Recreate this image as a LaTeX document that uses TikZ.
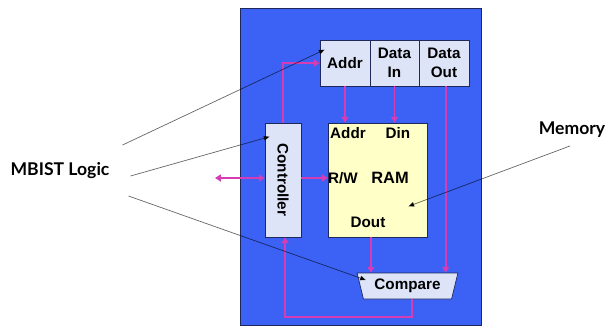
\documentclass[tikz,border=0pt]{standalone}
\usepackage{fontspec}
\setmainfont{Liberation Sans}
\newfontfamily\latofont{Lato}
\usetikzlibrary{arrows.meta,shapes.geometric}
\definecolor{chipblue}{RGB}{59,98,245}
\definecolor{boxfill}{RGB}{221,228,247}
\definecolor{ramfill}{RGB}{255,255,200}
\definecolor{sigpink}{RGB}{214,60,180}
\definecolor{edgenavy}{RGB}{30,40,90}

\begin{document}
\begin{tikzpicture}[x=0.03cm, y=-0.03cm,
  box/.style={draw=edgenavy, line width=0.6pt, fill=boxfill, inner sep=0pt, font=\fontsize{13}{16}\selectfont\bfseries, align=center},
  lbl/.style={font=\fontsize{13}{16}\selectfont\bfseries, inner sep=1pt},
  sig/.style={draw=sigpink, line width=1.5pt, >={Triangle[width=6pt,length=5pt]}, ->},
  callout/.style={draw=black, draw opacity=0.6, line width=0.6pt, -{Triangle[width=4pt,length=5pt]}},
  tag/.style={font=\latofont\fontsize{15}{18}\selectfont\bfseries}]
  \useasboundingbox (0,0) rectangle (611,327);
  \node[draw=edgenavy, line width=0.8pt, fill=chipblue, minimum width=7.23cm, minimum height=9.51cm] (chip) at (360.5,166.5) {};
  \node[box, minimum width=1.5cm, minimum height=1.38cm] (addr) at (345,63) {Addr};
  \node[box, minimum width=1.47cm, minimum height=1.38cm] (datain) at (394.5,63) {Data\\In};
  \node[box, minimum width=1.5cm, minimum height=1.38cm] (dataout) at (444,63) {Data\\Out};
  \node[box, minimum width=1.08cm, minimum height=3.42cm] (ctrl) at (283,180) {};
  \node[lbl, rotate=-90] (ctrllbl) at (ctrl.center) {Controller};
  \node[box, fill=ramfill, minimum width=2.97cm, minimum height=3.42cm] (ram) at (377.5,180) {};
  \node[lbl] (addrlbl) at (348,133) {Addr};
  \node[lbl] (dinlbl) at (398,133) {Din};
  \node[lbl] (rwlbl) at (343,178) {R/W};
  \node[lbl, font=\fontsize{14}{16}\selectfont\bfseries] (ramlbl) at (390,178) {RAM};
  \node[lbl] (doutlbl) at (368,222) {Dout};
  \node[box, trapezium, shape border rotate=180, trapezium angle=71, trapezium stretches=true, minimum width=3.03cm, minimum height=0.78cm] (compare) at (407.5,286) {Compare};
  \node[tag] (mbist) at (60,171) {MBIST Logic};
  \node[tag] (memory) at (572,130) {Memory};
  \coordinate (ext) at (215,178);
  \coordinate (ret) at (285,317);
  \draw[sig] (ctrl.north) |- (addr.west);
  \draw[sig] (addr.south) -- (addr.south |- ram.north);
  \draw[sig] (datain.south) -- (datain.south |- ram.north);
  \draw[sig] ([xshift=0.05cm]dataout.south) -- ([xshift=0.05cm]dataout.south |- compare.north);
  \draw[sig] ([xshift=-0.2cm]ram.south) -- ([xshift=-0.2cm]ram.south |- compare.north);
  \draw[sig] (ctrl.east |- rwlbl) -- (ram.west |- rwlbl);
  \draw[sig, <->] (ext) -- (ctrl.west |- ext);
  \draw[sig] ([xshift=0.13cm]compare.south) |- (ret) -- (ctrl.south -| ret);
  \draw[callout] ([shift={(9,-26)}]mbist.east) -- ([shift={(5,10)}]addr.north west);
  \draw[callout] ([shift={(17,5)}]mbist.east) -- ([shift={(5,14)}]ctrl.north west);
  \draw[callout] ([shift={(15,25)}]mbist.east) -- ([shift={(6,-6)}]compare.west);
  \draw[callout] ([shift={(-2,4)}]memory.south) -- ([shift={(-19,-31)}]ram.south east);
\end{tikzpicture}
\end{document}
